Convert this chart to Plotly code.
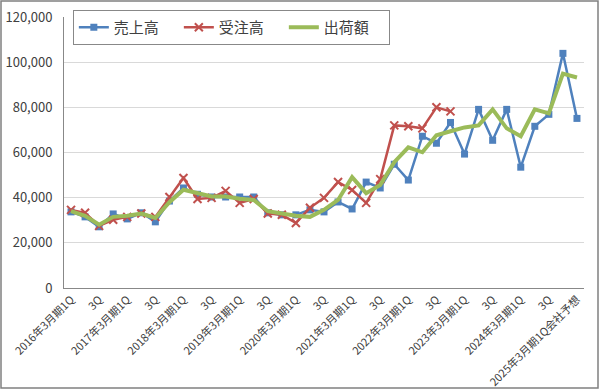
import plotly.graph_objects as go

tick_labels = [
    "2016年3月期1Q", "3Q", "2017年3月期1Q", "3Q", "2018年3月期1Q", "3Q",
    "2019年3月期1Q", "3Q", "2020年3月期1Q", "3Q", "2021年3月期1Q", "3Q",
    "2022年3月期1Q", "3Q", "2023年3月期1Q", "3Q", "2024年3月期1Q", "3Q",
    "2025年3月期1Q会社予想",
]

sales = [33700, 31500, 27100, 32800, 30600, 33300, 29300, 38500, 44300, 41500,
         40300, 40300, 40300, 40300, 33300, 32400, 32400, 34600, 33700, 38100,
         35000, 46900, 44300, 54800, 47800, 67200, 64100, 73300, 59300, 79100,
         65400, 79100, 53500, 71600, 76900, 103900, 75100]

orders = [34600, 33300, 27500, 30200, 31500, 33000, 31500, 40300, 48700, 39400,
          39900, 43000, 37700, 39400, 33000, 32400, 28800, 35500, 39900, 46900,
          43400, 37700, 48200, 72000, 71600, 70700, 80000, 78200]

shipments = [34000, 32000, 28000, 31500, 32000, 33000, 31000, 38000, 43500, 42000,
             40500, 40500, 39500, 39000, 34000, 33000, 32000, 31500, 34600, 39000,
             49100, 42000, 45600, 55700, 62300, 60100, 67600, 69400, 71100, 72000,
             79100, 70700, 67200, 79100, 77300, 94900, 93200]

n = len(sales)
x_all = list(range(n))

fig = go.Figure()
fig.add_trace(go.Scatter(
    x=x_all, y=sales, name="売上高", mode="lines+markers",
    line=dict(color="#4F81BD", width=2.5),
    marker=dict(symbol="square", size=7, color="#4F81BD"),
))
fig.add_trace(go.Scatter(
    x=x_all[:len(orders)], y=orders, name="受注高", mode="lines+markers",
    line=dict(color="#C0504D", width=2.5),
    marker=dict(symbol="x-thin", size=8, color="#C0504D",
                line=dict(color="#C0504D", width=2)),
))
fig.add_trace(go.Scatter(
    x=x_all, y=shipments, name="出荷額", mode="lines",
    line=dict(color="#9BBB59", width=4),
))

font_family = "Noto Sans CJK JP, Noto Sans, sans-serif"

fig.update_layout(
    width=600, height=392,
    margin=dict(l=64, r=16, t=17, b=104, autoexpand=False),
    paper_bgcolor="white", plot_bgcolor="white",
    font=dict(family=font_family, color="#404040"),
    showlegend=True,
    legend=dict(
        orientation="h", x=0.017, y=1.026, xanchor="left", yanchor="top",
        bgcolor="white", bordercolor="#888888", borderwidth=1,
        font=dict(size=15, color="#404040", family=font_family),
        itemwidth=30, tracegroupgap=0, entrywidth=60,
    ),
    xaxis=dict(
        range=[-0.5, n - 0.5],
        tickmode="array",
        tickvals=list(range(0, n, 2)),
        ticktext=tick_labels,
        tickangle=-45,
        tickfont=dict(size=11, color="#404040"),
        showgrid=False, zeroline=False,
        showline=True, linecolor="#888888", linewidth=1,
        ticks="", automargin=False,
    ),
    yaxis=dict(
        range=[0, 120000],
        tickvals=[0, 20000, 40000, 60000, 80000, 100000, 120000],
        tickformat=",",
        tickfont=dict(size=13, color="#404040"),
        showgrid=True, gridcolor="#D9D9D9", gridwidth=1,
        zeroline=False,
        showline=True, linecolor="#888888", linewidth=1,
        ticks="", ticklabelstandoff=8, automargin=False,
    ),
    shapes=[dict(
        type="rect", xref="paper", yref="paper",
        x0=-63 / 520, x1=(598 - 64) / 520,
        y0=-(388 - 288) / 271, y1=1 + 16 / 271,
        line=dict(color="#808080", width=1.5), fillcolor="rgba(0,0,0,0)",
        layer="below",
    )],
)

fig.write_html("out.html")
